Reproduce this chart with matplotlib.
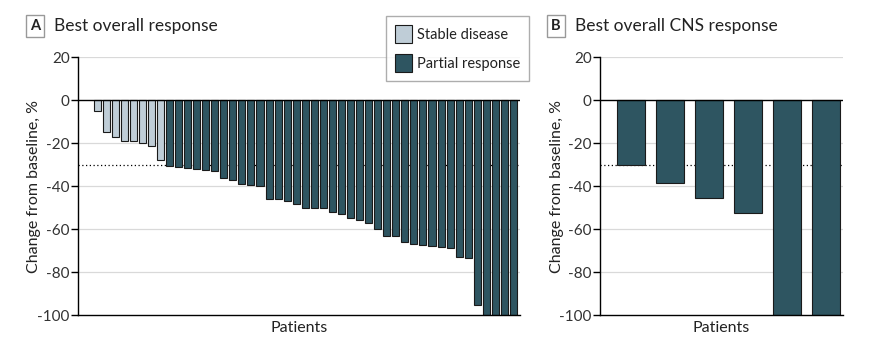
import matplotlib
matplotlib.use("Agg")
import matplotlib.pyplot as plt
from matplotlib.patches import Patch
from matplotlib.ticker import FuncFormatter

plt.rcParams["font.family"] = ["Lato", "DejaVu Sans"]

# Panel A: best overall response, change from baseline (%)
stable_vals = [-5, -15, -17, -19, -19, -20, -21.5, -28]
partial_vals = [-30.5, -31.3, -31.8, -32.2, -32.7, -33.2, -36.4, -37.4, -39.2,
                -39.7, -40.1, -46.2, -46.2, -47.1, -48.5, -50.4, -50.4, -50.4,
                -52.2, -53.2, -55.0, -55.9, -57.4, -60.1, -63.4, -63.4, -66.2,
                -67.1, -67.6, -68.0, -68.5, -69.0, -73.2, -73.6, -95.5, -100,
                -100, -100, -100]
# Panel B: best overall CNS response
cns_vals = [-30, -38.7, -45.7, -52.7, -100, -100]

yticks = [20, 0, -20, -40, -60, -80, -100]
threshold = -30

STABLE = "#bfcdd7"
PARTIAL = "#2e5561"
EDGE = "#1a1a1a"
GRID = "#d9d9d9"
TXT = "#222222"

fig = plt.figure(figsize=(8.71, 3.52), dpi=100)
axA = fig.add_axes([0.0896, 0.105, 0.507, 0.733])
axB = fig.add_axes([0.689, 0.105, 0.279, 0.733])


def style(ax):
    ax.set_ylim(-100, 20)
    ax.set_yticks(yticks)
    ax.yaxis.set_major_formatter(FuncFormatter(lambda v, p: "%d" % v))
    for v in [20, -20, -40, -60, -80]:
        ax.axhline(v, color=GRID, lw=0.9, zorder=0)
    ax.axhline(threshold, color="black", lw=0.9, ls=(0, (1, 2)), zorder=1)
    ax.axhline(0, color="black", lw=1.0, zorder=3)
    for s in ["top", "right"]:
        ax.spines[s].set_visible(False)
    ax.spines["left"].set_linewidth(1.0)
    ax.spines["bottom"].set_linewidth(1.0)
    ax.set_xticks([])
    ax.tick_params(axis="y", direction="out", length=5, width=1.0,
                   labelsize=11, labelcolor="#333333", pad=1)
    ax.set_ylabel("Change from baseline, %", fontsize=11.5, color=TXT, labelpad=-3)
    ax.set_xlabel("Patients", fontsize=11.5, color=TXT, labelpad=4)


n_st = len(stable_vals)
xs_st = list(range(n_st))
xs_pr = list(range(n_st, n_st + len(partial_vals)))
axA.bar(xs_st, stable_vals, width=0.78, color=STABLE, edgecolor=EDGE,
        linewidth=0.8, zorder=2)
axA.bar(xs_pr, partial_vals, width=0.78, color=PARTIAL, edgecolor=EDGE,
        linewidth=0.8, zorder=2)
axA.set_xlim(-2.1, n_st + len(partial_vals) - 1 + 0.68)
style(axA)

axB.bar(range(len(cns_vals)), cns_vals, width=0.72, color=PARTIAL,
        edgecolor=EDGE, linewidth=0.8, zorder=2)
axB.set_xlim(-0.78, 5.45)
style(axB)

handles = [Patch(facecolor=STABLE, edgecolor=EDGE, lw=0.8, label="Stable disease"),
           Patch(facecolor=PARTIAL, edgecolor=EDGE, lw=0.8, label="Partial response")]
leg = fig.legend(handles=handles, loc="upper left",
                 bbox_to_anchor=(386 / 871, 1 - 16 / 352),
                 fontsize=10.5, frameon=True, fancybox=False,
                 edgecolor="#999999", handlelength=1.15, handleheight=1.6,
                 borderpad=0.6, labelspacing=0.7, handletextpad=0.35,
                 borderaxespad=0)
leg.get_frame().set_linewidth(1.0)
for t in leg.get_texts():
    t.set_color(TXT)

box = dict(boxstyle="square,pad=0.3", facecolor="white", edgecolor="#999999", lw=1.0)
fig.text(35 / 871, 1 - 26 / 352, "A", fontsize=10.5, fontweight="bold",
         ha="center", va="center", bbox=box, color=TXT)
fig.text(54 / 871, 1 - 26 / 352, "Best overall response", fontsize=12.5,
         ha="left", va="center", color=TXT)
fig.text(556 / 871, 1 - 26 / 352, "B", fontsize=10.5, fontweight="bold",
         ha="center", va="center", bbox=box, color=TXT)
fig.text(575 / 871, 1 - 26 / 352, "Best overall CNS response", fontsize=12.5,
         ha="left", va="center", color=TXT)

fig.savefig("out.png", dpi=100)
